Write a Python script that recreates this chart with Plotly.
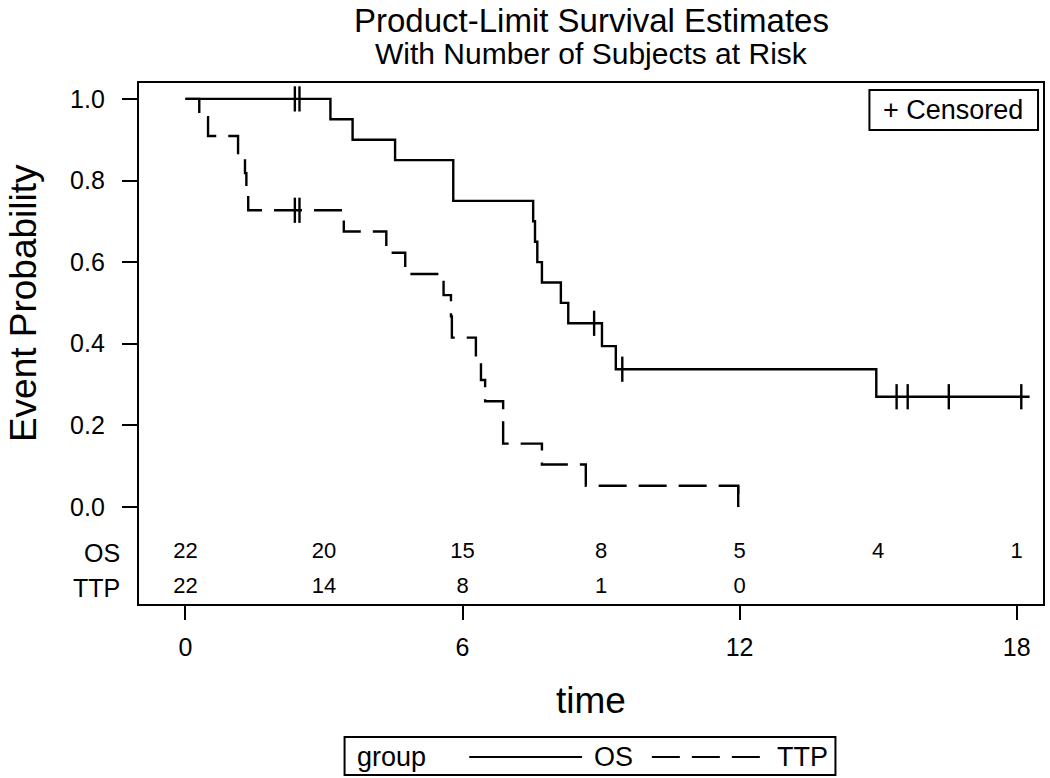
import plotly.graph_objects as go

# ---- data ----
os_times = [0, 3.14, 3.62, 4.54, 5.80, 7.53, 7.57, 7.62, 7.72, 8.13, 8.29, 9.02, 9.32, 14.96, 18.28]
os_surv = [1.0, 0.95, 0.90, 0.85, 0.75, 0.70, 0.65, 0.60, 0.55, 0.50, 0.45, 0.394, 0.3375, 0.27, 0.27]
os_cens_times = [2.37, 2.47, 8.85, 9.46, 15.40, 15.64, 16.53, 18.10]
os_cens_surv = [1.0, 1.0, 0.45, 0.3375, 0.27, 0.27, 0.27, 0.27]

ttp_times = [0, 0.30, 0.49, 1.14, 1.29, 1.32, 1.36, 3.43, 4.35, 4.76, 5.59, 5.75, 5.77,
             6.29, 6.40, 6.49, 6.88, 7.72, 8.67, 11.97]
ttp_surv = [1.0, 0.955, 0.909, 0.864, 0.818, 0.773, 0.727, 0.675, 0.623, 0.571, 0.519, 0.467, 0.415,
            0.363, 0.311, 0.259, 0.155, 0.104, 0.052, 0.0]
ttp_cens_times = [2.37, 2.47]
ttp_cens_surv = [0.727, 0.727]

risk_times_os = [0, 3, 6, 9, 12, 15, 18]
risk_os = [22, 20, 15, 8, 5, 4, 1]
risk_times_ttp = [0, 3, 6, 9, 12]
risk_ttp = [22, 14, 8, 1, 0]

x_ticks = [0, 6, 12, 18]
y_ticks = [0.0, 0.2, 0.4, 0.6, 0.8, 1.0]

FONT = "Liberation Sans, Arial, sans-serif"
BLACK = "#000000"
DASH = "28px,12px"
LW = 2.4

fig = go.Figure()

fig.add_trace(go.Scatter(x=ttp_times, y=ttp_surv, mode="lines", line_shape="hv",
                         line=dict(color=BLACK, width=LW, dash=DASH), name="TTP", showlegend=False))
# final drop of the TTP curve (last step) drawn so it stays visible
fig.add_trace(go.Scatter(x=[ttp_times[-1], ttp_times[-1]], y=ttp_surv[-2:], mode="lines",
                         line=dict(color=BLACK, width=LW), showlegend=False))
fig.add_trace(go.Scatter(x=os_times, y=os_surv, mode="lines", line_shape="hv",
                         line=dict(color=BLACK, width=LW), name="OS", showlegend=False))
censor_marker = dict(symbol="line-ns-open", size=18, color=BLACK, line=dict(color=BLACK, width=LW))
fig.add_trace(go.Scatter(x=os_cens_times, y=os_cens_surv, mode="markers",
                         marker=censor_marker, showlegend=False))
fig.add_trace(go.Scatter(x=ttp_cens_times, y=ttp_cens_surv, mode="markers",
                         marker=censor_marker, showlegend=False))

# at-risk rows inside the plot
OS_ROW_Y = -0.112
TTP_ROW_Y = -0.1985
fig.add_trace(go.Scatter(x=risk_times_os, y=[OS_ROW_Y] * len(risk_os), mode="text",
                         text=[str(v) for v in risk_os],
                         textfont=dict(family=FONT, size=22, color=BLACK), showlegend=False))
fig.add_trace(go.Scatter(x=risk_times_ttp, y=[TTP_ROW_Y] * len(risk_ttp), mode="text",
                         text=[str(v) for v in risk_ttp],
                         textfont=dict(family=FONT, size=22, color=BLACK), showlegend=False))

fig.update_layout(
    width=1050, height=778,
    margin=dict(l=139, r=5, t=83, b=174),
    paper_bgcolor="white", plot_bgcolor="white",
    font=dict(family=FONT, color=BLACK),
    showlegend=False,
)
fig.update_xaxes(range=[-1.005, 18.57], tickvals=x_ticks, ticks="outside", ticklen=14, tickwidth=2,
                 tickcolor=BLACK, showline=True, mirror=True, linewidth=2.4, linecolor=BLACK,
                 showgrid=False, zeroline=False, tickfont=dict(size=25, family=FONT),
                 ticklabelstandoff=6)
fig.update_yaxes(range=[-0.238, 1.039], tickvals=y_ticks, tickformat=".1f", ticks="outside",
                 ticklen=15, tickwidth=2, tickcolor=BLACK, showline=True, mirror=True, linewidth=2.4,
                 linecolor=BLACK, showgrid=False, zeroline=False, tickfont=dict(size=25, family=FONT),
                 ticklabelstandoff=12)

ann = []
ann.append(dict(text="Product-Limit Survival Estimates", xref="paper", yref="paper", x=0.5, y=1.1593,
                xanchor="center", yanchor="top", showarrow=False, font=dict(size=33, family=FONT)))
ann.append(dict(text="With Number of Subjects at Risk", xref="paper", yref="paper", x=0.5, y=1.0566,
                xanchor="center", yanchor="middle", showarrow=False, font=dict(size=30, family=FONT)))
ann.append(dict(text="Event Probability", xref="paper", yref="y", x=-0.127, y=0.5, textangle=-90,
                xanchor="center", yanchor="middle", showarrow=False, font=dict(size=37, family=FONT)))
ann.append(dict(text="time", xref="paper", yref="paper", x=0.5, y=-0.1843,
                xanchor="center", yanchor="middle", showarrow=False, font=dict(size=37, family=FONT)))
ann.append(dict(text="OS", xref="paper", yref="y", x=-0.0191, y=OS_ROW_Y,
                xanchor="right", yanchor="middle", showarrow=False, font=dict(size=25, family=FONT)))
ann.append(dict(text="TTP", xref="paper", yref="y", x=-0.0191, y=TTP_ROW_Y,
                xanchor="right", yanchor="middle", showarrow=False, font=dict(size=25, family=FONT)))
# censored inset legend
ann.append(dict(text="+ Censored", xref="paper", yref="paper", x=0.9007, y=0.948,
                xanchor="center", yanchor="middle", showarrow=False, font=dict(size=27, family=FONT)))
# bottom group legend
LEG_Y = -0.2937
ann.append(dict(text="group", xref="paper", yref="paper", x=0.2384, y=LEG_Y,
                xanchor="left", yanchor="middle", showarrow=False, font=dict(size=27, family=FONT)))
ann.append(dict(text="OS", xref="paper", yref="paper", x=0.5011, y=LEG_Y,
                xanchor="left", yanchor="middle", showarrow=False, font=dict(size=27, family=FONT)))
ann.append(dict(text="TTP", xref="paper", yref="paper", x=0.7031, y=LEG_Y,
                xanchor="left", yanchor="middle", showarrow=False, font=dict(size=27, family=FONT)))
fig.update_layout(annotations=ann)

shapes = []
shapes.append(dict(type="rect", xref="paper", yref="paper", x0=0.808, x1=0.9945, y0=0.9098, y1=0.9866,
                   line=dict(color=BLACK, width=2), fillcolor="rgba(0,0,0,0)"))
shapes.append(dict(type="rect", xref="paper", yref="paper", x0=0.2274, x1=0.7704, y0=-0.3282, y1=-0.2553,
                   line=dict(color=BLACK, width=2), fillcolor="rgba(0,0,0,0)"))
shapes.append(dict(type="line", xref="paper", yref="paper", x0=0.3653, x1=0.4901, y0=LEG_Y, y1=LEG_Y,
                   line=dict(color=BLACK, width=2)))
shapes.append(dict(type="line", xref="paper", yref="paper", x0=0.5673, x1=0.6921, y0=LEG_Y, y1=LEG_Y,
                   line=dict(color=BLACK, width=2, dash=DASH)))
fig.update_layout(shapes=shapes)

# remove the default 8px page margin so the figure sits at the window's top-left corner
fig.write_html("out.html", config={"displayModeBar": False},
               post_script="document.body.style.margin='0';document.body.style.overflow='hidden';")
